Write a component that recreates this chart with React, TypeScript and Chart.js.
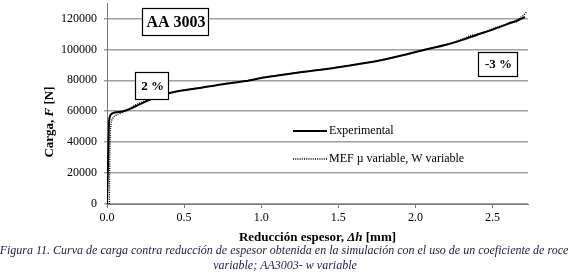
import React, { useEffect, useRef } from 'react';
import { Chart, registerables } from 'chart.js';
Chart.register(...registerables);

// Experimental curve: thickness reduction [mm] vs load [N]
const expX = [0, 0.005, 0.01, 0.012, 0.015, 0.025, 0.05, 0.1, 0.15, 0.2, 0.28, 0.35, 0.45, 0.6, 0.75, 0.9, 1.0, 1.1, 1.25, 1.4, 1.5, 1.65, 1.8, 1.95, 2.05, 2.2, 2.3, 2.4, 2.5, 2.6, 2.67, 2.71];
const expF = [0, 20000, 40000, 50000, 55000, 58000, 59200, 59800, 61500, 64000, 67500, 70300, 72800, 75000, 77500, 79500, 81500, 83000, 85200, 87000, 88400, 90800, 93500, 97000, 99500, 103000, 106000, 109500, 112800, 116500, 119000, 121000];

// Simulation (MEF µ variable, W variable)
const simX = [0.015, 0.017, 0.02, 0.024, 0.03, 0.045, 0.07, 0.1, 0.15, 0.2, 0.28, 0.35, 0.45, 0.6, 0.75, 0.9, 1.0, 1.1, 1.25, 1.4, 1.5, 1.65, 1.8, 1.95, 2.05, 2.2, 2.3, 2.36, 2.42, 2.48, 2.53, 2.58, 2.62, 2.65, 2.68, 2.7, 2.72];
const simF = [0, 20000, 40000, 50000, 54000, 56500, 58000, 59300, 62000, 64800, 68000, 70500, 72800, 75200, 77300, 79700, 81400, 83200, 85000, 87200, 88600, 90600, 93700, 96800, 99600, 103200, 106500, 109000, 110200, 112500, 114500, 116000, 117800, 117500, 120500, 122000, 124000];

const xTickValues = [0, 0.5, 1.0, 1.5, 2.0, 2.5];
const yTickValues = [0, 20000, 40000, 60000, 80000, 100000, 120000];

const seriesNames = ['Experimental', 'MEF \u00b5 variable, W variable'];
const boxLabels = ['AA 3003', '2 %', '-3 %'];
const yTitleParts = [['Carga, ', false], ['F', true], [' [N]', false]] as [string, boolean][];
const xTitleParts = [['Reducci\u00f3n espesor, ', false], ['\u0394h', true], [' [mm]', false]] as [string, boolean][];
const captionLines = [
  'Figura 11. Curva de carga contra reducci\u00f3n de espesor obtenida en la simulaci\u00f3n con el uso de un coeficiente de roce',
  'variable; AA3003- w variable',
];

const SERIF = "'Liberation Serif', 'Times New Roman', serif";

function drawParts(ctx: CanvasRenderingContext2D, parts: [string, boolean][], size: number, cx: number, cy: number) {
  const fonts = parts.map(([, it]) => `${it ? 'italic ' : ''}bold ${size}px ${SERIF}`);
  let total = 0;
  const widths = parts.map(([t], i) => {
    ctx.font = fonts[i];
    const w = ctx.measureText(t).width;
    total += w;
    return w;
  });
  let x = cx - total / 2;
  ctx.textBaseline = 'middle';
  ctx.textAlign = 'left';
  parts.forEach(([t], i) => {
    ctx.font = fonts[i];
    ctx.fillText(t, x, cy);
    x += widths[i];
  });
}

const decorPlugin = {
  id: 'decor',
  afterDatasetsDraw(chart: any) {
    const ctx: CanvasRenderingContext2D = chart.ctx;
    ctx.save();
    ctx.setLineDash([]);
    const boxes = [
      { t: boxLabels[0], l: 142, r: 208, tp: 8, b: 35, size: 16 },
      { t: boxLabels[1], l: 135, r: 168, tp: 72, b: 99, size: 13 },
      { t: boxLabels[2], l: 478, r: 517, tp: 52, b: 76, size: 13 },
    ];
    boxes.forEach((bx) => {
      ctx.fillStyle = '#fff';
      ctx.fillRect(bx.l, bx.tp, bx.r - bx.l, bx.b - bx.tp);
      ctx.strokeStyle = '#000';
      ctx.lineWidth = 1.2;
      ctx.strokeRect(bx.l + 0.5, bx.tp + 0.5, bx.r - bx.l, bx.b - bx.tp);
      ctx.fillStyle = '#000';
      ctx.font = `bold ${bx.size}px ${SERIF}`;
      ctx.textAlign = 'center';
      ctx.textBaseline = 'middle';
      ctx.fillText(bx.t, (bx.l + bx.r) / 2 + 1, (bx.tp + bx.b) / 2 + 1);
    });
    const leg = [
      { name: seriesNames[0], y: 131, dash: [] as number[], w: 2 },
      { name: seriesNames[1], y: 159, dash: [1, 1.2], w: 1.3 },
    ];
    leg.forEach((e) => {
      ctx.strokeStyle = '#000';
      ctx.lineWidth = e.w;
      ctx.setLineDash(e.dash);
      ctx.beginPath();
      ctx.moveTo(293, e.y);
      ctx.lineTo(327, e.y);
      ctx.stroke();
      ctx.setLineDash([]);
      ctx.fillStyle = '#000';
      ctx.font = `12px ${SERIF}`;
      ctx.textAlign = 'left';
      ctx.textBaseline = 'middle';
      ctx.fillText(e.name, 329, e.y);
    });
    ctx.restore();
  },
  afterDraw(chart: any) {
    const ctx: CanvasRenderingContext2D = chart.ctx;
    const area = chart.chartArea;
    ctx.save();
    ctx.fillStyle = '#000';
    drawParts(ctx, xTitleParts, 13, (area.left + area.right) / 2, 238);
    ctx.save();
    ctx.translate(50, 122);
    ctx.rotate(-Math.PI / 2);
    drawParts(ctx, yTitleParts, 13, 0, 0);
    ctx.restore();
    ctx.fillStyle = '#1c1c48';
    ctx.font = `italic 12px ${SERIF}`;
    ctx.textAlign = 'center';
    ctx.textBaseline = 'middle';
    ctx.fillText(captionLines[0], 284, 251);
    ctx.fillText(captionLines[1], 285, 266);
    ctx.restore();
  },
};

const fitY = (s: any) => { s.width = 107; s.paddingTop = 0; s.paddingBottom = 0; };
const fitX = (s: any) => { s.height = 74; s.paddingLeft = 0; s.paddingRight = 0; };

export default function App() {
  const ref = useRef<HTMLCanvasElement>(null);
  useEffect(() => {
    if (!ref.current) return;
    const chart = new Chart(ref.current, {
      type: 'scatter',
      data: {
        datasets: [
          {
            label: seriesNames[1],
            data: simX.map((x, i) => ({ x, y: simF[i] })),
            showLine: true,
            borderColor: '#000',
            borderWidth: 1.3,
            borderDash: [1, 1.2],
            pointRadius: 0,
            tension: 0.3,
          },
          {
            label: seriesNames[0],
            data: expX.map((x, i) => ({ x, y: expF[i] })),
            showLine: true,
            borderColor: '#000',
            borderWidth: 2,
            pointRadius: 0,
            tension: 0.3,
          },
        ],
      },
      options: {
        responsive: false,
        animation: false,
        layout: { padding: { left: 0, right: 47, top: 3, bottom: 0 } },
        plugins: { legend: { display: false }, tooltip: { enabled: false } },
        scales: {
          x: {
            min: 0,
            max: 2.73,
            afterFit: fitX,
            afterBuildTicks: (s: any) => { s.ticks = xTickValues.map((v) => ({ value: v })); },
            ticks: {
              callback: (v: any) => Number(v).toFixed(1),
              font: { family: SERIF, size: 12 },
              color: '#000',
              padding: 3,
              maxRotation: 0,
              autoSkip: false,
            },
            grid: { drawOnChartArea: false, color: '#7a7a7a', lineWidth: 1, tickLength: 4 },
            border: { color: '#7a7a7a', width: 1 },
          },
          y: {
            min: 0,
            max: 130000,
            afterFit: fitY,
            afterBuildTicks: (s: any) => { s.ticks = yTickValues.map((v) => ({ value: v })); },
            ticks: {
              callback: (v: any) => String(v),
              font: { family: SERIF, size: 12 },
              color: '#000',
              padding: 7,
              autoSkip: false,
            },
            grid: { color: '#a0a0a0', lineWidth: 1.5, tickLength: 3 },
            border: { color: '#7a7a7a', width: 1 },
          },
        },
      },
      plugins: [decorPlugin],
    });
    return () => chart.destroy();
  }, []);
  return (
    <div style={{ position: 'absolute', left: 0, top: 0, width: 575, height: 278, background: '#fff' }}>
      <canvas ref={ref} width={575} height={278} />
    </div>
  );
}
